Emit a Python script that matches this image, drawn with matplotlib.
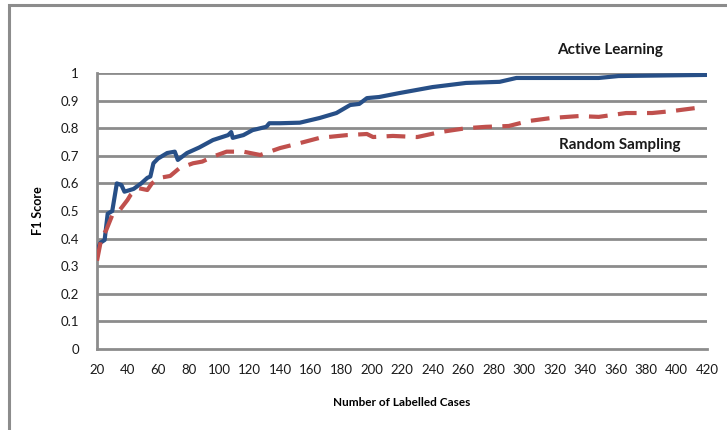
import matplotlib
matplotlib.use("Agg")
import matplotlib.pyplot as plt
from matplotlib.patches import Rectangle

active_x = [20, 22, 25, 27, 30, 33, 36, 38, 44, 49, 53, 55, 57, 60, 66, 71, 73, 79, 87, 96,
            106, 108, 109, 116, 122, 131, 133, 140, 153, 166, 177, 186, 192, 197, 205, 218,
            240, 262, 284, 295, 306, 349, 362, 419]
active_y = [0.35, 0.384, 0.395, 0.49, 0.50, 0.60, 0.594, 0.57, 0.58, 0.60, 0.62, 0.625, 0.673,
            0.69, 0.71, 0.715, 0.685, 0.71, 0.73, 0.757, 0.775, 0.786, 0.765, 0.775, 0.793,
            0.805, 0.818, 0.818, 0.82, 0.837, 0.855, 0.884, 0.888, 0.909, 0.913, 0.927,
            0.949, 0.964, 0.968, 0.982, 0.982, 0.982, 0.989, 0.993]

random_x = [20, 23, 26, 30, 35, 40, 42, 47, 53, 56, 61, 68, 74, 83, 89, 96, 105, 116, 127,
            140, 153, 166, 184, 197, 201, 214, 230, 245, 262, 275, 290, 303, 318, 336, 349,
            367, 384, 397, 418]
random_y = [0.32, 0.405, 0.43, 0.485, 0.504, 0.54, 0.558, 0.583, 0.576, 0.60, 0.62, 0.627,
            0.655, 0.673, 0.679, 0.697, 0.715, 0.715, 0.703, 0.728, 0.746, 0.765, 0.775,
            0.779, 0.768, 0.772, 0.768, 0.786, 0.80, 0.805, 0.808, 0.826, 0.837, 0.844,
            0.841, 0.855, 0.855, 0.862, 0.877]

x_ticks = list(range(20, 421, 20))
y_ticks = [0, 0.1, 0.2, 0.3, 0.4, 0.5, 0.6, 0.7, 0.8, 0.9, 1]
y_tick_labels = ["0", "0.1", "0.2", "0.3", "0.4", "0.5", "0.6", "0.7", "0.8", "0.9", "1"]

plt.rcParams['font.family'] = ['Lato', 'DejaVu Sans']

W, H = 727, 430
fig = plt.figure(figsize=(W / 100, H / 100), dpi=100)

# outer chart frame (left and top visible)
fig.patches.append(Rectangle((9 / W, -0.1), 1.2, (H - 5) / H + 0.1, transform=fig.transFigure,
                             fill=False, edgecolor="#8c8c8c", linewidth=2.2))

left, right, top, bottom = 97, 707, 73, 349
ax = fig.add_axes([left / W, 1 - bottom / H, (right - left) / W, (bottom - top) / H])
ax.set_xlim(20, 420)
ax.set_ylim(0, 1)

grid_c = "#8c8c8c"
for yv in y_ticks[1:]:
    ax.axhline(yv, color=grid_c, linewidth=2.0, zorder=1, solid_capstyle="butt")

ax.plot(active_x, active_y, color="#274f87", linewidth=3.0, zorder=3, solid_joinstyle="round")
ax.plot(random_x, random_y, color="#c0504d", linewidth=3.0, zorder=3, dashes=(4.5, 2.5))

for s in ["top", "right"]:
    ax.spines[s].set_visible(False)
for s in ["left", "bottom"]:
    ax.spines[s].set_color(grid_c)
    ax.spines[s].set_linewidth(2.0)

ax.set_xticks(x_ticks)
ax.set_xticklabels([str(v) for v in x_ticks])
ax.set_yticks(y_ticks)
ax.set_yticklabels(y_tick_labels)
ax.tick_params(length=0, labelsize=9.5, colors="#1a1a1a")
ax.tick_params(axis="y", pad=13)
ax.tick_params(axis="x", pad=11)

ax.set_xlabel("Number of Labelled Cases", fontsize=8.5, fontweight="bold", labelpad=15)
ax.set_ylabel("F1 Score", fontsize=9, fontweight="bold", labelpad=12)

fig.text(610 / W, 1 - 50 / H, "Active Learning", ha="center", va="center", fontsize=11,
         fontweight="bold", color="#1a1a1a")
fig.text(620 / W, 1 - 145 / H, "Random Sampling", ha="center", va="center", fontsize=11,
         fontweight="bold", color="#1a1a1a")

fig.savefig("out.png", dpi=100)
